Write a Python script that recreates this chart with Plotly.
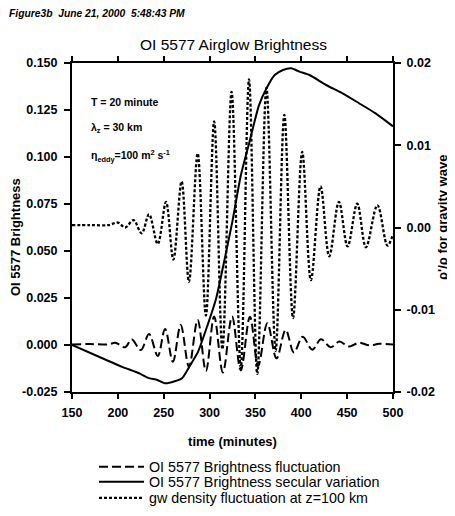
import plotly.graph_objects as go

# ---------------- data ----------------
fluct_time = [150, 170, 190, 197, 208, 215, 225, 234, 243.5, 251.5, 260, 268.5, 277.5, 287,
              296, 305, 314.5, 324.5, 334, 344, 353, 363, 373, 383, 392, 401.5, 412, 421.5,
              432, 441.5, 452, 463, 474, 485, 500]
fluct_brightness = [0.0003, 0.0005, 0.0003, 0.0012, -0.0012, 0.0030, -0.0027, 0.0058, -0.0058,
                    0.0085, -0.0089, 0.0106, -0.0115, 0.0133, -0.0138, 0.0151, -0.0146, 0.0151,
                    -0.0135, 0.0150, -0.0110, 0.0116, -0.0071, 0.0080, -0.0040, 0.0044, -0.0025,
                    0.0030, -0.0012, 0.0018, -0.0008, 0.0012, -0.0002, 0.0006, 0.0003]

secular_time = [150, 175, 204, 224, 233, 243, 252, 262, 270, 278, 287.5, 296, 307, 317, 325,
                334, 343.5, 354, 363, 371, 380, 389, 398, 409, 427, 445, 463, 481, 500]
secular_brightness = [0.0, -0.0053, -0.0115, -0.0152, -0.0175, -0.0186, -0.0204, -0.0193,
                      -0.0177, -0.0115, -0.0035, 0.0080, 0.0245, 0.0470, 0.0660, 0.0900,
                      0.1080, 0.1277, 0.1374, 0.1436, 0.1463, 0.1472, 0.1454, 0.1436, 0.1383,
                      0.1339, 0.1286, 0.1232, 0.1163]

gw_time = [150, 170, 190, 200, 208, 217, 226, 234, 243.5, 252.5, 260.5, 269.5, 277.5, 287, 296,
           305, 314, 324, 334, 343, 352, 362, 372, 381.5, 391, 401, 410.5, 421, 430.5, 441,
           450.5, 461, 470.5, 483, 494, 500]
gw_density = [0.0003, 0.0003, 0.0003, 0.0006, 0.0000, 0.0009, -0.0007, 0.0016, -0.0020, 0.0031,
              -0.0039, 0.0056, -0.0066, 0.0090, -0.0107, 0.0129, -0.0148, 0.0165, -0.0170,
              0.0180, -0.0178, 0.0170, -0.0150, 0.0137, -0.0110, 0.0092, -0.0064, 0.0050,
              -0.0035, 0.0031, -0.0023, 0.0029, -0.0024, 0.0027, -0.0022, -0.0008]

x_ticks = [150, 200, 250, 300, 350, 400, 450, 500]
x_tick_labels = ["150", "200", "250", "300", "350", "400", "450", "500"]
y_ticks = [-0.025, 0.0, 0.025, 0.05, 0.075, 0.1, 0.125, 0.15]
y_tick_labels = ["-0.025", "0.000", "0.025", "0.050", "0.075", "0.100", "0.125", "0.150"]
y2_ticks = [-0.02, -0.01, 0.0, 0.01, 0.02]
y2_tick_labels = ["-0.02", "-0.01", "0.00", "0.01", "0.02"]

# The html page body has an 8px default margin; the figure is sized to fit inside it.
OFF = 8
W, H = 455 - OFF, 516 - OFF
PLOT_L, PLOT_R, PLOT_T, PLOT_B = 72, 393, 63, 392   # plot-area edges in window pixels


def px_x(x):
    return (x - PLOT_L) / (PLOT_R - PLOT_L)


def px_y(y):
    return (PLOT_B - y) / (PLOT_B - PLOT_T)


def cont_y(y):
    return 1 - (y - OFF) / H


FONT = "Liberation Sans, Arial, Helvetica, sans-serif"
BOLD = dict(family=FONT, size=12.5, color="black", weight="bold")
TITLE_FONT = dict(family=FONT, size=13, color="black", weight="bold")
NOTE_FONT = dict(family=FONT, size=10.5, color="black", weight="bold")

fig = go.Figure()
fig.add_trace(go.Scatter(
    x=fluct_time, y=fluct_brightness, mode="lines",
    name="OI 5577 Brightness fluctuation", legend="legend",
    line=dict(color="black", width=2, dash="9px,4px", shape="spline", smoothing=1)))
fig.add_trace(go.Scatter(
    x=secular_time, y=secular_brightness, mode="lines",
    name="OI 5577 Brightness secular variation", legend="legend2",
    line=dict(color="black", width=2, shape="spline", smoothing=0.6)))
fig.add_trace(go.Scatter(
    x=gw_time, y=gw_density, mode="lines", yaxis="y2",
    name="gw density fluctuation at z=100 km", legend="legend3",
    line=dict(color="black", width=2.3, dash="3px,2px", shape="spline", smoothing=1)))

axis_common = dict(showline=True, linewidth=2, linecolor="black", ticks="outside",
                   tickwidth=2, tickcolor="black", showgrid=False, zeroline=False,
                   tickfont=BOLD, automargin=False)

leg_common = dict(x=px_x(94), xanchor="left", yanchor="middle", yref="container",
                  bgcolor="rgba(0,0,0,0)", borderwidth=0, itemwidth=45,
                  font=dict(family=FONT, size=14.3, color="black"))

fig.update_layout(
    template="none",
    showlegend=True,
    width=W, height=H,
    margin=dict(l=PLOT_L - OFF, r=455 - PLOT_R, t=PLOT_T - OFF, b=516 - PLOT_B),
    paper_bgcolor="white", plot_bgcolor="white",
    font=dict(family=FONT, color="black", size=12),
    title=dict(text="OI 5577 Airglow Brightness", x=(233.5 - OFF) / W, xanchor="center",
               y=cont_y(45), yanchor="middle",
               font=dict(family=FONT, size=15.5, color="black")),
    xaxis=dict(range=[150, 500], tickvals=x_ticks, ticktext=x_tick_labels, ticklen=5,
               mirror="ticks", ticklabelstandoff=3,
               title=dict(text="time (minutes)", standoff=18, font=TITLE_FONT),
               **axis_common),
    yaxis=dict(range=[-0.025, 0.150], tickvals=y_ticks, ticktext=y_tick_labels, ticklen=6,
               ticklabelstandoff=4, **axis_common),
    yaxis2=dict(range=[-0.02, 0.02], tickvals=y2_ticks, ticktext=y2_tick_labels, ticklen=6,
                ticklabelstandoff=3, overlaying="y", side="right", **axis_common),
    legend=dict(y=cont_y(467), **leg_common),
    legend2=dict(y=cont_y(482), **leg_common),
    legend3=dict(y=cont_y(498), **leg_common),
    annotations=[
        dict(text="OI 5577 Brightness", xref="paper", yref="paper",
             x=px_x(15), y=px_y(237), textangle=-90,
             xanchor="center", yanchor="middle", showarrow=False, font=TITLE_FONT),
        dict(text="ρ'/ρ for gravity wave", xref="paper", yref="paper",
             x=px_x(442), y=px_y(217), textangle=-90,
             xanchor="center", yanchor="middle", showarrow=False, font=TITLE_FONT),
        dict(text="Figure3b\u00a0\u00a0June 21, 2000\u00a0\u00a05:48:43 PM", xref="paper",
             yref="paper", x=px_x(7), y=px_y(14), xanchor="left",
             yanchor="middle", showarrow=False,
             font=dict(family=FONT, size=10.3, color="black", weight="bold", style="italic")),
        dict(text="T = 20 minute", xref="paper", yref="paper", x=px_x(89),
             y=px_y(102), xanchor="left", yanchor="middle", showarrow=False, font=NOTE_FONT),
        dict(text="λ<sub>z</sub> = 30 km", xref="paper", yref="paper", x=px_x(89),
             y=px_y(128), xanchor="left", yanchor="middle", showarrow=False, font=NOTE_FONT),
        dict(text="η<sub>eddy</sub>=100 m<sup>2</sup> s<sup>-1</sup>", xref="paper",
             yref="paper", x=px_x(89), y=px_y(156), xanchor="left",
             yanchor="middle", showarrow=False, font=NOTE_FONT),
    ],
)

fig.write_html("out.html")
